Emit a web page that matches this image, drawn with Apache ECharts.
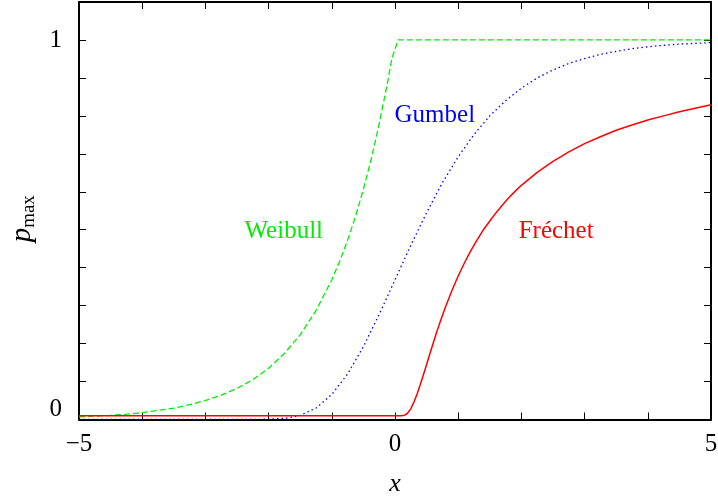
<!DOCTYPE html>
<html>
<head>
<meta charset="utf-8">
<script src="https://cdn.jsdelivr.net/npm/echarts@6/dist/echarts.min.js"></script>
<style>
  html, body { margin: 0; padding: 0; background: #fff; }
  #chart { width: 718px; height: 497px; }
</style>
</head>
<body>
<div id="chart"></div>
<script>
// Cumulative probability of the maximum for the three extreme-value families.

// Labelled ticks
const xTickLabels = [-5, 0, 5];
const yTickLabels = [0, 1];

// Weibull (green, dashed)
const weibullX = [-5, -4.75, -4.5, -4.25, -4, -3.75, -3.5, -3.25, -3, -2.75, -2.5, -2.25, -2, -1.75, -1.5, -1.25, -1, -0.875, -0.75, -0.625, -0.5, -0.375, -0.25, -0.125, -0.05, 0.05, 1, 2, 3, 4, 5];
const weibullP = [0.007, 0.009, 0.011, 0.014, 0.018, 0.024, 0.030, 0.039, 0.050, 0.064, 0.082, 0.105, 0.135, 0.174, 0.223, 0.287, 0.368, 0.417, 0.472, 0.535, 0.607, 0.687, 0.779, 0.882, 0.951, 1, 1, 1, 1, 1, 1];

// Gumbel (blue, dotted)
const gumbelX = [-5, -3, -2.25, -2, -1.75, -1.6, -1.5, -1.25, -1, -0.75, -0.5, -0.25, 0, 0.25, 0.5, 0.75, 1, 1.25, 1.5, 1.75, 2, 2.25, 2.5, 2.75, 3, 3.25, 3.5, 3.75, 4, 4.25, 4.5, 4.75, 5];
const gumbelP = [0, 0, 0, 0.001, 0.003, 0.007, 0.011, 0.030, 0.066, 0.120, 0.192, 0.277, 0.368, 0.459, 0.545, 0.624, 0.692, 0.751, 0.800, 0.840, 0.873, 0.900, 0.921, 0.938, 0.951, 0.962, 0.970, 0.977, 0.982, 0.986, 0.989, 0.991, 0.993];

// Fréchet (red, solid)
const frechetX = [-5, 0, 0.1, 0.15, 0.2, 0.25, 0.3, 0.35, 0.4, 0.45, 0.5, 0.55, 0.6, 0.65, 0.7, 0.75, 0.8, 0.85, 0.9, 0.95, 1, 1.1, 1.2, 1.3, 1.4, 1.5, 1.6, 1.7, 1.8, 1.9, 2, 2.25, 2.5, 2.75, 3, 3.25, 3.5, 3.75, 4, 4.25, 4.5, 4.75, 5];
const frechetP = [0.01, 0.01, 0.01, 0.011, 0.017, 0.028, 0.046, 0.067, 0.092, 0.118, 0.145, 0.172, 0.199, 0.225, 0.250, 0.274, 0.297, 0.318, 0.339, 0.359, 0.378, 0.413, 0.445, 0.473, 0.500, 0.523, 0.545, 0.565, 0.584, 0.601, 0.617, 0.651, 0.680, 0.705, 0.727, 0.745, 0.762, 0.776, 0.789, 0.800, 0.811, 0.820, 0.829];

// Curve names and where they are written (data coordinates)
const curveNames = ['Weibull', 'Gumbel', 'Fréchet'];
const nameAnchorX = [-1.76, 0.63, 2.55];
const nameAnchorY = [0.495, 0.8, 0.495];

const serif = 'Liberation Serif';
const colors = ['#00ee00', '#0000ff', '#ff0000'];

const zip = (xs, ys) => xs.map((x, i) => [x, ys[i]]);

function curve(idx, xs, ys, lineType, width) {
  return {
    type: 'line',
    name: curveNames[idx],
    data: zip(xs, ys),
    showSymbol: false,
    smooth: false,
    lineStyle: { color: colors[idx], width: width, type: lineType },
    itemStyle: { color: colors[idx] },
    markPoint: {
      symbol: 'circle',
      symbolSize: 1,
      itemStyle: { color: 'rgba(0,0,0,0)' },
      label: {
        show: true,
        position: 'inside',
        formatter: curveNames[idx],
        color: colors[idx],
        fontFamily: serif,
        fontSize: 25
      },
      data: [{ coord: [nameAnchorX[idx], nameAnchorY[idx]] }]
    }
  };
}

const frameLine = { show: true, onZero: false, lineStyle: { color: '#000', width: 2 } };
const innerTick = { show: true, inside: true, length: 7, lineStyle: { color: '#000', width: 1 } };

const chart = echarts.init(document.getElementById('chart'), null, { renderer: 'canvas' });
chart.setOption({
  animation: false,
  backgroundColor: '#fff',
  grid: { left: 79, right: 7, top: 2, bottom: 77.5, containLabel: false, outerBoundsMode: 'none' },
  xAxis: [
    {
      type: 'value', min: -5, max: 5, interval: 1, position: 'bottom',
      axisLine: frameLine, axisTick: innerTick, splitLine: { show: false },
      axisLabel: {
        margin: 12, color: '#000', fontFamily: serif, fontSize: 25,
        formatter: v => xTickLabels.some(t => Math.abs(t - v) < 1e-9) ? String(v).replace('-', '\u2212') : ''
      },
      name: 'x', nameLocation: 'middle', nameGap: 52,
      nameTextStyle: { color: '#000', fontFamily: serif, fontSize: 26, fontStyle: 'italic' }
    },
    {
      type: 'value', min: -5, max: 5, interval: 1, position: 'top',
      axisLine: frameLine, axisTick: innerTick, splitLine: { show: false },
      axisLabel: { show: false }
    }
  ],
  yAxis: [
    {
      type: 'value', min: 0, max: 1.1, interval: 0.1, position: 'left',
      axisLine: frameLine, axisTick: innerTick, splitLine: { show: false },
      axisLabel: {
        margin: 17, color: '#000', fontFamily: serif, fontSize: 25,
        formatter: v => {
          if (Math.abs(v - yTickLabels[0]) < 1e-9) return '{z|' + yTickLabels[0] + '}';
          if (Math.abs(v - yTickLabels[1]) < 1e-9) return String(yTickLabels[1]);
          return '';
        },
        rich: { z: { padding: [0, 0, 20, 0], color: '#000', fontFamily: serif, fontSize: 25 } }
      },
      name: '{p|p}{s|max}', nameLocation: 'middle', nameRotate: 90, nameGap: 37,
      nameTextStyle: {
        padding: [0, 16, 0, 0],
        rich: {
          p: { fontFamily: serif, fontSize: 29, fontStyle: 'italic', color: '#000', lineHeight: 29 },
          s: { fontFamily: serif, fontSize: 19, color: '#000', lineHeight: 19, padding: [14, 0, 0, 0] }
        }
      }
    },
    {
      type: 'value', min: 0, max: 1.1, interval: 0.1, position: 'right',
      axisLine: frameLine, axisTick: innerTick, splitLine: { show: false },
      axisLabel: { show: false }
    }
  ],
  series: [
    curve(0, weibullX, weibullP, [6, 3], 1.3),
    curve(1, gumbelX, gumbelP, [1.5, 3], 1.3),
    curve(2, frechetX, frechetP, 'solid', 1.5)
  ]
});
</script>
</body>
</html>
